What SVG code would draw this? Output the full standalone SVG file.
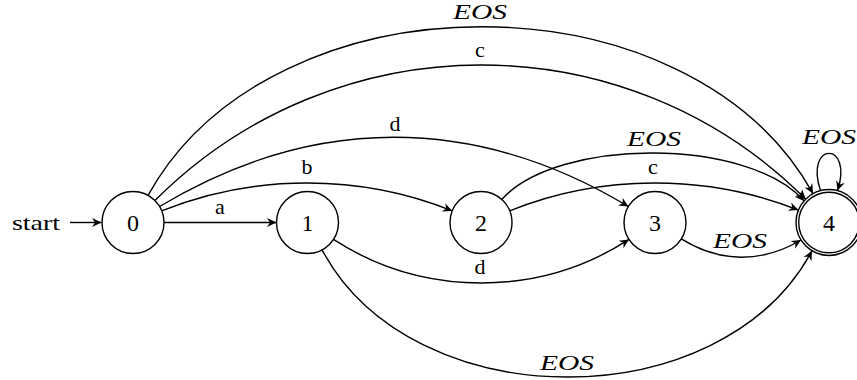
<svg xmlns="http://www.w3.org/2000/svg" width="857" height="380" viewBox="0 0 857 380">
<style>
.st{fill:#fff;stroke:#000;stroke-width:1.4}
.acc{fill:none;stroke:#000;stroke-width:1.4}
.e{fill:none;stroke:#000;stroke-width:1.4;marker-end:url(#arr)}
text{font-family:"Liberation Serif","Times New Roman",serif;font-size:22px;fill:#000;text-anchor:middle}
.it{font-style:italic}
.n{font-size:24px}
</style>
<defs>
<marker id="arr" viewBox="-10 -5 10 10" refX="0" refY="0" markerWidth="10" markerHeight="10" markerUnits="userSpaceOnUse" orient="auto" overflow="visible">
<path d="M0,0 L-9.5,-4.5 L-6.5,0 L-9.5,4.5 Z" fill="#000"/>
</marker>
</defs>
<rect width="857" height="380" fill="#fff"/>
<g id="connectors">
<path class="e" d="M70,222.5 L101.5,222.5"/>
<path class="e" d="M164,222.5 L276.5,222.5"/>
<path class="e" d="M148,195.4 C272.5,-29.2 689.5,-29.2 813,193.6"/>
<path class="e" d="M154.9,200.6 C335.5,20 626.5,20 805.7,199.2"/>
<path class="e" d="M159.6,206.5 C313.2,114.2 474.8,114.2 628.4,206.5"/>
<path class="e" d="M161.7,210.9 C253.8,173.7 360.2,173.7 452.3,210.9"/>
<path class="e" d="M501.7,199.5 C557.7,137.3 748,137.3 804.1,200.9"/>
<path class="e" d="M509.7,210.9 C601.3,173.9 706.8,173.9 798.4,210.1"/>
<path class="e" d="M681.3,238.9 C720,263.1 762.3,263.1 801,240"/>
<path class="e" d="M333.5,239.4 C423,297.5 539.5,297.5 629,239.4"/>
<path class="e" d="M322.1,249.9 C412.1,419.2 722,419.2 812,250.8"/>
<path class="e" d="M820.5,190.6 C804,141 854,141 837.5,190.6"/>
</g>
<g id="labels">
<text x="36" y="230" textLength="48" lengthAdjust="spacingAndGlyphs">start</text>
<text x="220" y="214">a</text>
<text x="307" y="174">b</text>
<text x="395" y="130.5">d</text>
<text x="480" y="57">c</text>
<text class="it" x="480" y="19" textLength="54" lengthAdjust="spacingAndGlyphs">EOS</text>
<text class="it" x="654" y="146" textLength="54" lengthAdjust="spacingAndGlyphs">EOS</text>
<text x="653" y="174">c</text>
<text class="it" x="740" y="247.5" textLength="54" lengthAdjust="spacingAndGlyphs">EOS</text>
<text x="480" y="273.5">d</text>
<text class="it" x="567" y="370" textLength="54" lengthAdjust="spacingAndGlyphs">EOS</text>
<text class="it" x="829" y="144" textLength="54" lengthAdjust="spacingAndGlyphs">EOS</text>
</g>
<g id="node0"><circle class="st" cx="133" cy="222.5" r="31"/><text class="n" x="133" y="231">0</text></g>
<g id="node1"><circle class="st" cx="307.5" cy="222.5" r="31"/><text class="n" x="307.5" y="231">1</text></g>
<g id="node2"><circle class="st" cx="481" cy="222.5" r="31"/><text class="n" x="481" y="231">2</text></g>
<g id="node3"><circle class="st" cx="655" cy="222.5" r="31"/><text class="n" x="655" y="231">3</text></g>
<g id="node4"><circle class="st" cx="829" cy="222.5" r="33"/><circle class="acc" cx="829" cy="222.5" r="30.3"/><text class="n" x="829" y="231">4</text></g>
</svg>
